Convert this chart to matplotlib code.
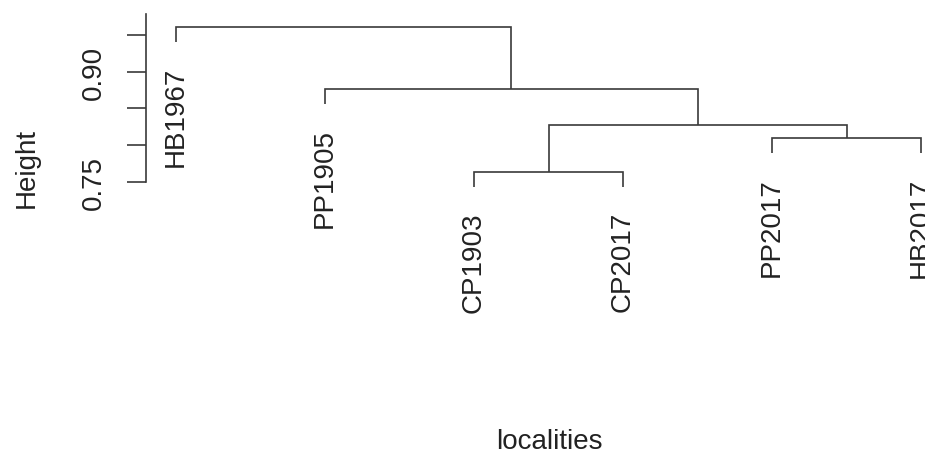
import matplotlib
matplotlib.use('Agg')
import matplotlib.pyplot as plt

plt.rcParams['font.family'] = ['Liberation Sans', 'DejaVu Sans']

# Leaves in plotting order
labels = ["HB1967", "PP1905", "CP1903", "CP2017", "PP2017", "HB2017"]
# hclust-style merge matrix: negative = leaf (1-based), positive = earlier merge step
merge = [(-3, -4), (-5, -6), (1, 2), (-2, 3), (-1, 4)]
heights = [0.763, 0.809, 0.827, 0.876, 0.960]
ytick_vals = [0.75, 0.80, 0.85, 0.90, 0.95]
ytick_labels = ["0.75", "", "", "0.90", ""]

W, H = 925, 452
fig = plt.figure(figsize=(W / 100, H / 100), dpi=100)
ax_left_px = 146
ax = fig.add_axes([ax_left_px / W, 0, 1 - ax_left_px / W, 1])

# pixel mapping derived from the reference
x0_px, dx_px = 176, 149
y075_px, py_per_unit = 182.8, 735.0
ax.set_xlim(1 - (x0_px - ax_left_px) / dx_px, 1 + (W - x0_px) / dx_px)
ax.set_ylim(0.75 - (H - y075_px) / py_per_unit, 0.75 + y075_px / py_per_unit)

hang = 0.1 * (max(heights) - min(heights))
col = '#3a3a3a'
lw = 1.2

node_x = {}
node_y = {}

def child_xy(c, h):
    if c < 0:
        return float(-c), h - hang
    return node_x[c], node_y[c]

for i, (a, b) in enumerate(merge, start=1):
    h = heights[i - 1]
    xa, ya = child_xy(a, h)
    xb, yb = child_xy(b, h)
    ax.plot([xa, xa, xb, xb], [ya, h, h, yb], color=col, lw=lw,
            solid_capstyle='butt', solid_joinstyle='miter')
    node_x[i] = (xa + xb) / 2
    node_y[i] = h
    for c, xc, yc in ((a, xa, ya), (b, xb, yb)):
        if c < 0:
            ax.annotate(labels[-c - 1], xy=(xc, yc), xytext=(0, -17.5),
                        textcoords='offset points', rotation=90,
                        ha='center', va='top', fontsize=20, color='#222222',
                        annotation_clip=False)

for s in ['top', 'right', 'bottom']:
    ax.spines[s].set_visible(False)
ax.spines['left'].set_bounds(0.75, 0.75 + (y075_px - 15) / py_per_unit)
ax.spines['left'].set_color(col)
ax.spines['left'].set_linewidth(lw)
ax.set_xticks([])
ax.set_yticks(ytick_vals)
ax.set_yticklabels(ytick_labels, rotation=90, va='center', fontsize=20,
                   color='#222222')
ax.tick_params(axis='y', length=13.5, width=lw, color=col, pad=15)
ax.patch.set_visible(False)

fig.text(27 / W, 1 - 168 / H, 'Height', rotation=90, ha='center',
         va='center', fontsize=20, color='#222222')
fig.text(549 / W, 1 - 449 / H, 'localities', ha='center', va='baseline',
         fontsize=20, color='#222222')

fig.savefig('out.png', dpi=100, facecolor='white')
